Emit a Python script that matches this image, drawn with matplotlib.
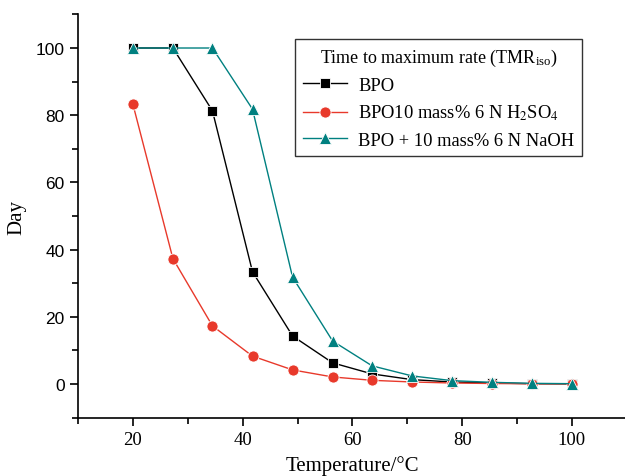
import matplotlib
matplotlib.use("Agg")
from matplotlib import pyplot as plt
from matplotlib.ticker import MultipleLocator

# temperatures (deg C) and TMR_iso in days
temperature = [20, 27.3, 34.5, 41.8, 49.1, 56.4, 63.6, 70.9, 78.2, 85.5, 92.7, 100]
bpo = [100, 100, 81.3, 33.4, 14.3, 6.3, 3.0, 1.3, 0.6, 0.3, 0.1, 0.05]
bpo_h2so4 = [83.3, 37.3, 17.3, 8.3, 4.2, 2.1, 1.1, 0.6, 0.3, 0.15, 0.07, 0.04]
bpo_naoh = [100, 100, 100, 81.8, 31.8, 12.8, 5.4, 2.4, 1.0, 0.5, 0.2, 0.1]

plt.rcParams['font.family'] = ['Liberation Serif', 'DejaVu Serif']
plt.rcParams['mathtext.fontset'] = 'stix'

fig = plt.figure(figsize=(6.25, 4.77), dpi=100)
ax = fig.add_axes([0.1248, 0.1224, 0.878, 0.8453])

ax.plot(temperature, bpo, color='black', lw=1, marker='s', ms=7,
        mec='white', mew=0.6, label='BPO')
ax.plot(temperature, bpo_h2so4, color='#e8392b', lw=1, marker='o', ms=8,
        mec='white', mew=0.6, label='BPO10 mass% 6 N H$_2$SO$_4$')
ax.plot(temperature, bpo_naoh, color='#008080', lw=1, marker='^', ms=8.5,
        mec='white', mew=0.6, label='BPO + 10 mass% 6 N NaOH')

ax.set_xlim(10, 110)
ax.set_ylim(-10, 110)
ax.xaxis.set_major_locator(MultipleLocator(20))
ax.xaxis.set_minor_locator(MultipleLocator(10))
ax.yaxis.set_major_locator(MultipleLocator(20))
ax.yaxis.set_minor_locator(MultipleLocator(10))
ax.spines['top'].set_visible(False)
ax.spines['right'].set_visible(False)
ax.spines['left'].set_linewidth(1.2)
ax.spines['bottom'].set_linewidth(1.2)
ax.tick_params(which='major', direction='out', length=6, width=1.2)
ax.tick_params(which='minor', direction='out', length=4, width=1.2)
for lbl in ax.get_xticklabels():
    lbl.set_family(['Liberation Serif'])
    lbl.set_fontsize(13.5)
for lbl in ax.get_yticklabels():
    lbl.set_family(['Liberation Sans'])
    lbl.set_fontsize(12.5)

ax.set_xlabel('Temperature/°C', fontsize=15, labelpad=5)
ax.set_ylabel('Day', fontsize=15, labelpad=7)

leg = ax.legend(title='Time to maximum rate (TMR$_{\\mathregular{iso}}$)', loc='upper right',
                bbox_to_anchor=(0.918, 0.939), borderaxespad=0,
                fontsize=13.3, title_fontsize=13,
                fancybox=False, edgecolor='#333333', framealpha=1,
                handlelength=2.4, handletextpad=0.6, borderpad=0.4, labelspacing=0.5)
leg.get_frame().set_linewidth(1.0)

fig.savefig('out.png', dpi=100)
